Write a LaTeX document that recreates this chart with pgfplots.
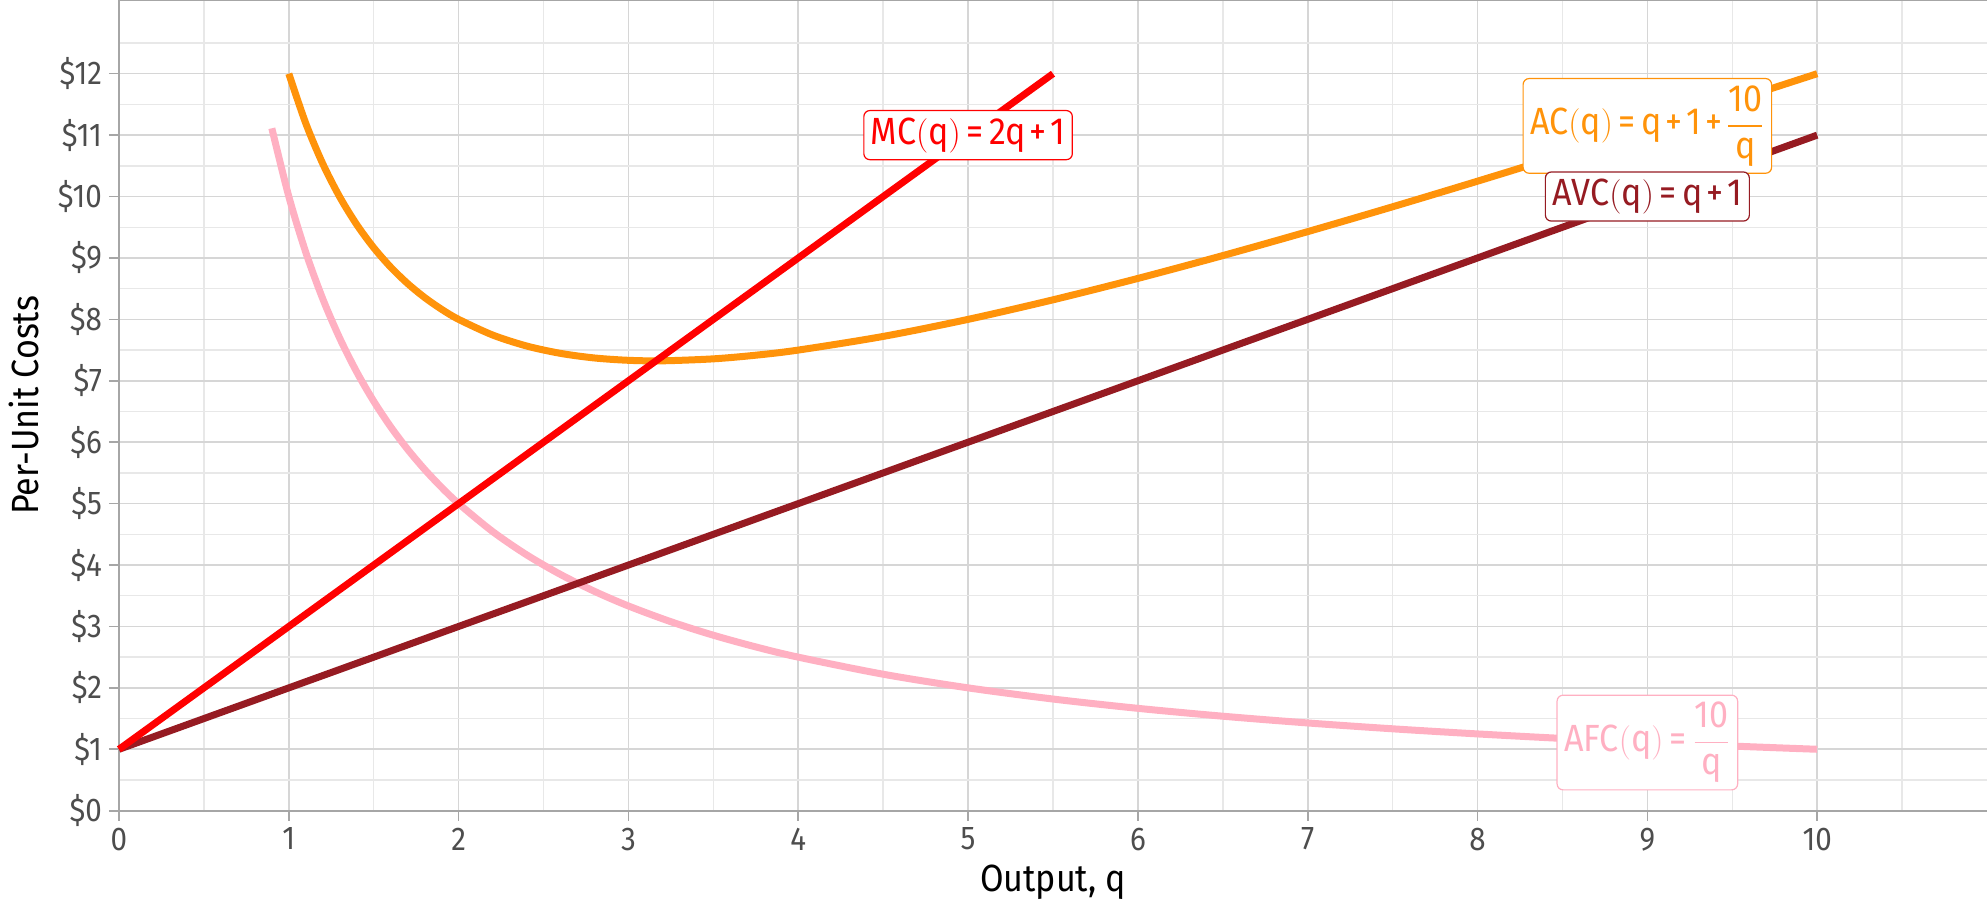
\documentclass[border=0pt]{standalone}
\usepackage{fontspec}
\setmainfont{Fira Sans}[FakeStretch=0.9]
\usepackage{amsmath}
\usepackage{pgfplots}
\pgfplotsset{compat=1.18}
\definecolor{mcred}{HTML}{FF0000}
\definecolor{avcred}{HTML}{961B22}
\definecolor{acorange}{HTML}{FF930A}
\definecolor{afcpink}{HTML}{FFB0C2}
\definecolor{gridmaj}{HTML}{D6D6D6}
\definecolor{gridmin}{HTML}{E8E8E8}
\definecolor{axisgray}{HTML}{A6A6A6}
\definecolor{ticklab}{HTML}{4D4D4D}
\newcommand{\lbl}{\fontsize{19}{21}\selectfont\thickmuskip=3mu\medmuskip=2mu}
\begin{document}
\begin{tikzpicture}
\begin{axis}[
  name=ax,
  scale only axis, width=934bp, height=405.35bp,
  xmin=0, xmax=11, ymin=0, ymax=13.2,
  xtick={0,1,...,10}, ytick={0,1,...,12},
  yticklabels={\$0,\$1,\$2,\$3,\$4,\$5,\$6,\$7,\$8,\$9,\$10,\$11,\$12},
  minor xtick={0.5,1.5,...,10.5}, minor ytick={0.5,1.5,...,12.5},
  grid=both,
  major grid style={color=gridmaj, line width=0.8bp},
  minor grid style={color=gridmin, line width=0.7bp},
  axis lines*=left,
  axis line style={color=axisgray, line width=0.9bp},
  tick align=outside, major tick length=5bp, minor tick length=0pt,
  tick style={color=axisgray, line width=0.8bp},
  /pgf/number format/assume math mode=true,
  ticklabel style={font=\fontsize{16.5}{18}\selectfont, text=ticklab},
  xlabel={Output, q}, ylabel={Per-Unit Costs},
  label style={font=\fontsize{19}{22}\selectfont, text=black},
  xlabel style={at={(axis description cs:0.5,-0.0888)}, anchor=center},
  ylabel style={at={(axis description cs:-0.0509,0.5)}, anchor=center},
  clip=false,
  every axis plot/.append style={line width=3.5bp, line cap=butt, line join=round},
]
\draw[axisgray, line width=0.9bp] (rel axis cs:0,1) -- (rel axis cs:1,1);
\addplot[afcpink, smooth] coordinates {
(0.9,11.111) (1.0,10) (1.1,9.0909) (1.2,8.3333) (1.3,7.6923) (1.4,7.1429) (1.5,6.6667)
(1.6,6.25) (1.7,5.8824) (1.8,5.5556) (1.9,5.2632) (2.0,5) (2.2,4.5455) (2.4,4.1667)
(2.6,3.8462) (2.8,3.5714) (3.0,3.3333) (3.25,3.0769) (3.5,2.8571) (3.75,2.6667) (4,2.5)
(4.5,2.2222) (5,2) (5.5,1.8182) (6,1.6667) (6.5,1.5385) (7,1.4286) (7.5,1.3333) (8,1.25)
(8.5,1.1765) (9,1.1111) (9.5,1.0526) (10,1)};
\addplot[acorange, smooth] coordinates {
(1.0,12) (1.1,11.1909) (1.2,10.5333) (1.3,9.9923) (1.4,9.5429) (1.5,9.1667) (1.6,8.85)
(1.7,8.5824) (1.8,8.3556) (1.9,8.1632) (2.0,8) (2.2,7.7455) (2.4,7.5667) (2.6,7.4462)
(2.8,7.3714) (3.0,7.3333) (3.2,7.325) (3.5,7.3571) (3.75,7.4167) (4,7.5) (4.5,7.7222)
(5,8) (5.5,8.3182) (6,8.6667) (6.5,9.0385) (7,9.4286) (7.5,9.8333) (8,10.25)
(8.5,10.6765) (9,11.1111) (9.5,11.5526) (10,12)};
\addplot[avcred] coordinates {(0,1) (10,11)};
\addplot[mcred] coordinates {(0,1) (5.5,12)};
\node[draw=mcred, fill=white, text=mcred, rounded corners=3bp, line width=0.6bp, inner sep=3.5bp, font=\lbl]
  at (axis cs:5,11) {$\text{MC}\!\left(\text{q}\right) \mathrel{\text{=}} \text{2q} \mathbin{\text{+}} \text{1}$};
\node[draw=acorange, fill=white, text=acorange, rounded corners=3bp, line width=0.6bp, inner sep=3.5bp, font=\lbl]
  at (axis cs:9,11.15) {$\text{AC}\!\left(\text{q}\right) \mathrel{\text{=}} \text{q} \mathbin{\text{+}} \text{1} \mathbin{\text{+}} \dfrac{\text{10}}{\text{q}}$};
\node[draw=avcred, fill=white, text=avcred, rounded corners=3bp, line width=0.6bp, inner sep=3.5bp, font=\lbl]
  at (axis cs:9,10) {$\text{AVC}\!\left(\text{q}\right) \mathrel{\text{=}} \text{q} \mathbin{\text{+}} \text{1}$};
\node[draw=afcpink, fill=white, text=afcpink, rounded corners=3bp, line width=0.6bp, inner sep=3.5bp, font=\lbl]
  at (axis cs:9,1.11) {$\text{AFC}\!\left(\text{q}\right) \mathrel{\text{=}} \dfrac{\text{10}}{\text{q}}$};
\end{axis}
\pgfresetboundingbox
\path ([shift={(-59.5bp,-47.65bp)}]ax.south west) rectangle (ax.north east);
\end{tikzpicture}
\end{document}
